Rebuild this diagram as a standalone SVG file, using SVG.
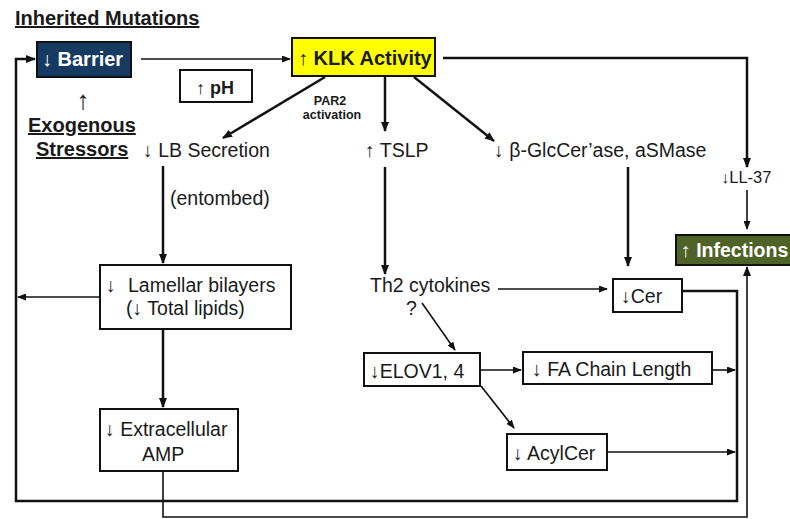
<svg xmlns="http://www.w3.org/2000/svg" width="790" height="519" viewBox="0 0 790 519">
<defs>
<marker id="ah" markerWidth="10" markerHeight="8" refX="9" refY="4" orient="auto" markerUnits="userSpaceOnUse">
<path d="M0,0 L10,4 L0,8 Z" fill="#111"/>
</marker>
<marker id="ahs" markerWidth="9" markerHeight="7" refX="8" refY="3.5" orient="auto" markerUnits="userSpaceOnUse">
<path d="M0,0 L9,3.5 L0,7 Z" fill="#111"/>
</marker>
<style>
text{font-family:"Liberation Sans",Arial,sans-serif;fill:#1a1a1a}
.b{font-weight:bold}
.n{font-size:19.5px}
.u{text-decoration:underline}
.box{fill:#fff;stroke:#111;stroke-width:2}
.c{fill:none;stroke:#111;stroke-width:2.5}
.t{fill:none;stroke:#111;stroke-width:1.6}
</style>
</defs>

<g id="title"><text class="b u" x="15" y="25" font-size="20">Inherited Mutations</text></g>

<g id="barrier">
<rect x="37" y="42" width="94" height="35" fill="#173a63" stroke="#111" stroke-width="2"/>
<text class="b" x="42" y="66" font-size="20" style="fill:#fff">↓ Barrier</text>
</g>

<g id="klk">
<rect x="292" y="38" width="143" height="38" fill="#ffff00" stroke="#111" stroke-width="2"/>
<text class="b" x="298" y="65" font-size="20">↑ KLK Activity</text>
</g>

<g id="ph">
<rect class="box" x="180" y="70" width="72" height="32"/>
<text class="b" x="196" y="94" font-size="18">↑ pH</text>
</g>

<g id="exo">
<text x="83" y="109" font-size="26" text-anchor="middle">↑</text>
<text class="b u" x="28" y="132" font-size="20">Exogenous</text>
<text class="b u" x="36" y="156" font-size="20">Stressors</text>
</g>

<g id="lb"><text class="n" x="143" y="157">↓ LB Secretion</text></g>
<g id="par2">
<text class="b" x="330" y="105" font-size="12.5" text-anchor="middle">PAR2</text>
<text class="b" x="332" y="119" font-size="12.5" text-anchor="middle">activation</text>
</g>
<g id="tslp"><text class="n" x="365" y="157">↑ TSLP</text></g>
<g id="glc"><text class="n" x="494" y="157">↓ β-GlcCer’ase, aSMase</text></g>
<g id="ll37"><text x="721" y="183" font-size="16.5">↓LL-37</text></g>

<g id="infections">
<rect x="676" y="235" width="120" height="30" fill="#4f6228" stroke="#111" stroke-width="2"/>
<text class="b" x="681" y="257" font-size="19.5" style="fill:#fff">↑ Infections</text>
</g>

<g id="entombed"><text class="n" x="170" y="205">(entombed)</text></g>

<g id="lamellar">
<rect class="box" x="100" y="265" width="191" height="64"/>
<text class="n" x="106" y="292">↓</text>
<text class="n" x="128" y="292">Lamellar bilayers</text>
<text class="n" x="126" y="315">(↓ Total lipids)</text>
</g>

<g id="amp">
<rect class="box" x="100" y="409" width="138" height="62"/>
<text class="n" x="105" y="436">↓ Extracellular</text>
<text class="n" x="142" y="461">AMP</text>
</g>

<g id="th2">
<text class="n" x="370" y="292">Th2 cytokines</text>
<text class="n" x="406" y="315">?</text>
</g>

<g id="cer">
<rect class="box" x="613" y="279" width="69" height="33"/>
<text class="n" x="621" y="303">↓Cer</text>
</g>

<g id="elov">
<rect class="box" x="364" y="353" width="116" height="33"/>
<text class="n" x="370" y="378">↓ELOV1, 4</text>
</g>

<g id="fa">
<rect class="box" x="523" y="352" width="189" height="32"/>
<text class="n" x="532" y="376">↓ FA Chain Length</text>
</g>

<g id="acylcer">
<rect class="box" x="507" y="434" width="100" height="36"/>
<text class="n" x="513" y="460">↓ AcylCer</text>
</g>

<g id="connectors">
<path class="t" d="M141,59 H290" marker-end="url(#ahs)"/>
<path class="c" d="M325,77 L223,138" marker-end="url(#ah)"/>
<path class="c" d="M385,77 V131" marker-end="url(#ah)"/>
<path class="c" d="M414,77 L494,141" marker-end="url(#ah)"/>
<path class="c" d="M443,58 H747 V167" marker-end="url(#ah)"/>
<path class="t" d="M747,190 V229" marker-end="url(#ahs)"/>
<path class="c" d="M628,167 V266" marker-end="url(#ah)"/>
<path class="c" d="M163,166 V263" marker-end="url(#ah)"/>
<path class="t" d="M100,297 H18" marker-end="url(#ahs)"/>
<path class="c" d="M163,329 V407" marker-end="url(#ah)"/>
<path class="t" d="M163,471 V517 H747 V267" marker-end="url(#ah)"/>
<path class="c" d="M385,167 V274" marker-end="url(#ah)"/>
<path class="t" d="M498,289 H607" marker-end="url(#ahs)"/>
<path class="t" d="M422,303 L455,350" marker-end="url(#ahs)"/>
<path class="c" d="M682,291 H737 V501 H16 V59 H35" marker-end="url(#ah)"/>
<path class="t" d="M480,370 H521" marker-end="url(#ahs)"/>
<path class="t" d="M712,370 H735" marker-end="url(#ahs)"/>
<path class="t" d="M481,386 L514,428" marker-end="url(#ahs)"/>
<path class="t" d="M607,452 H735" marker-end="url(#ahs)"/>
</g>
</svg>
